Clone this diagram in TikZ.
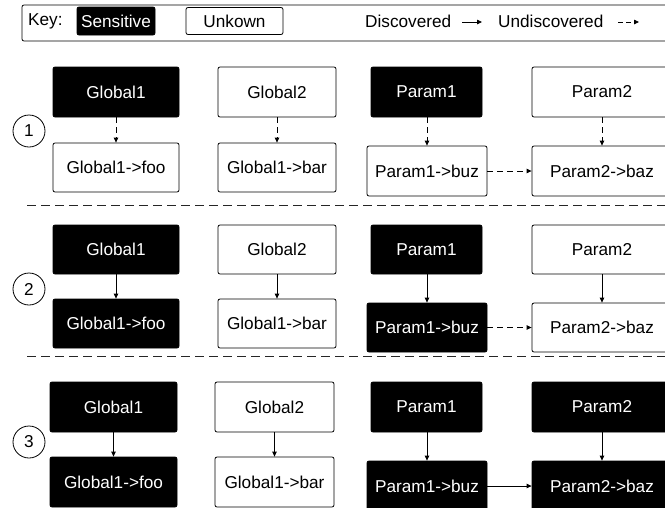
\documentclass[tikz,border=0pt]{standalone}
\usepackage{fontspec}
\setmainfont{Liberation Sans}
\usetikzlibrary{arrows.meta}
\tikzset{
  sens/.style={draw=black, fill=black, text=white, rounded corners=2pt, line width=0.8pt, minimum height=50pt, inner sep=2pt, font=\fontsize{17.2}{20}\selectfont},
  unk/.style={draw=black, fill=white, text=black, rounded corners=2pt, line width=0.8pt, minimum height=50pt, inner sep=2pt, font=\fontsize{17.2}{20}\selectfont},
  keytxt/.style={inner sep=0pt, anchor=west, font=\fontsize{17.2}{20}\selectfont},
  stepnum/.style={draw=black, circle, line width=0.8pt, minimum size=32pt, inner sep=0pt, font=\fontsize{17.2}{20}\selectfont},
  disc/.style={line width=0.8pt, -{Triangle[length=5pt,width=4.5pt]}},
  undisc/.style={line width=0.8pt, dash pattern=on 6pt off 4pt, -{Triangle[length=5pt,width=4.5pt]}},
  sepline/.style={line width=1pt, draw=black!85, dash pattern=on 9pt off 5pt}
}
\begin{document}
\begin{tikzpicture}[x=1pt, y=-1pt]
\clip (0,0) rectangle (665,507);
\fill[white] (0,0) rectangle (665,507);

% key
\draw[line width=0.8pt, rounded corners=2pt] (22,5) rectangle (680,41);
\node[keytxt] (keylab) at (28,21) {Key:};
\node[sens, minimum width=78pt, minimum height=28pt] (ksens) at (116,21) {Sensitive};
\node[unk, minimum width=97pt, minimum height=27pt] (kunk) at (234.5,21) {Unkown};
\node[keytxt] (kdisc) at (365,21) {Discovered};
\coordinate (kda) at (462,22);
\coordinate (kdb) at (482,22);
\draw[disc] (kda) -- (kdb);
\node[keytxt] (kund) at (498,21) {Undiscovered};
\coordinate (kua) at (618,22);
\coordinate (kub) at (639,22);
\draw[undisc, dash pattern=on 5pt off 3pt] (kua) -- (kub);

% row 1
\node[stepnum] (c1) at (29,131) {1};
\node[sens, minimum width=126pt] (a1) at (116,92) {Global1};
\node[unk, minimum width=126pt, minimum height=49pt] (a2) at (116,167.5) {Global1->foo};
\node[unk, minimum width=118pt] (b1) at (277,92) {Global2};
\node[unk, minimum width=118pt, minimum height=49pt] (b2) at (277,167.5) {Global1->bar};
\node[sens, minimum width=111pt] (p1) at (426.5,92) {Param1};
\node[unk, minimum width=120pt] (p2) at (427,171) {Param1->buz};
\node[unk, minimum width=140pt] (q1) at (602,92) {Param2};
\node[unk, minimum width=140pt] (q2) at (602,171) {Param2->baz};
\draw[undisc] (a1) -- (a2);
\draw[undisc] (b1) -- (b2);
\draw[undisc] (p1.south -| p2) -- (p2);
\draw[undisc] (q1) -- (q2);
\draw[undisc] (p2) -- (q2);
\coordinate (s1a) at (27,205);
\coordinate (s1b) at (670,205);
\draw[sepline] (s1a) -- (s1b);

% row 2
\node[stepnum] (c2) at (29,289) {2};
\node[sens, minimum width=126pt, minimum height=49pt] (d1) at (116,249.5) {Global1};
\node[sens, minimum width=126pt, minimum height=49pt] (d2) at (116,323.5) {Global1->foo};
\node[unk, minimum width=118pt, minimum height=49pt] (e1) at (277,249.5) {Global2};
\node[unk, minimum width=118pt, minimum height=49pt] (e2) at (277,323.5) {Global1->bar};
\node[sens, minimum width=111pt, minimum height=49pt] (f1) at (426.5,249.5) {Param1};
\node[sens, minimum width=120pt, minimum height=49pt] (f2) at (427,327.5) {Param1->buz};
\node[unk, minimum width=140pt, minimum height=49pt] (g1) at (602,249.5) {Param2};
\node[unk, minimum width=140pt, minimum height=49pt] (g2) at (602,327.5) {Param2->baz};
\draw[disc] (d1) -- (d2);
\draw[disc] (e1) -- (e2);
\draw[disc] (f1.south -| f2) -- (f2);
\draw[disc] (g1) -- (g2);
\draw[undisc] (f2) -- (g2);
\coordinate (s2a) at (27,356);
\coordinate (s2b) at (670,356);
\draw[sepline] (s2a) -- (s2b);

% row 3
\node[stepnum] (c3) at (29,442) {3};
\node[sens, minimum width=127pt] (h1) at (113.5,407) {Global1};
\node[sens, minimum width=127pt] (h2) at (113.5,482) {Global1->foo};
\node[unk, minimum width=119pt] (i1) at (274.5,407) {Global2};
\node[unk, minimum width=119pt] (i2) at (274.5,482) {Global1->bar};
\node[sens, minimum width=111pt] (j1) at (426.5,407) {Param1};
\node[sens, minimum width=120pt] (j2) at (427,486) {Param1->buz};
\node[sens, minimum width=140pt] (k1) at (602,407) {Param2};
\node[sens, minimum width=140pt] (k2) at (602,486) {Param2->baz};
\draw[disc] (h1) -- (h2);
\draw[disc] (i1) -- (i2);
\draw[disc] (j1.south -| j2) -- (j2);
\draw[disc] (k1) -- (k2);
\draw[disc] (j2) -- (k2);
\end{tikzpicture}
\end{document}
